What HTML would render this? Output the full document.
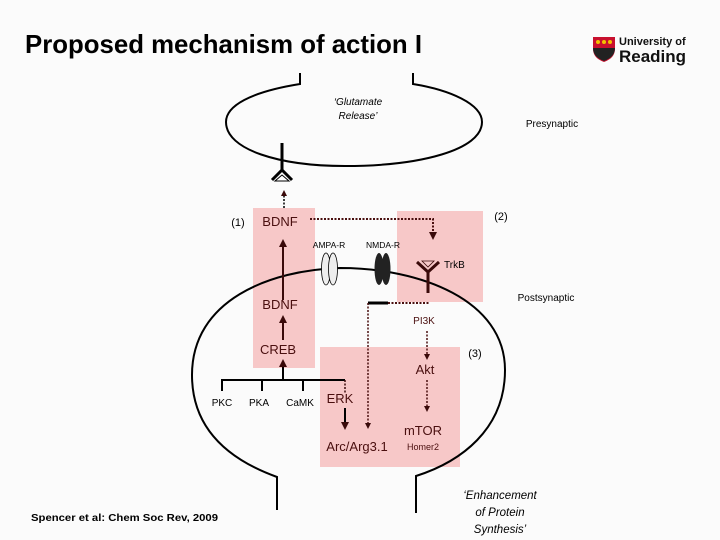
<!DOCTYPE html>
<html><head><style>
html,body{margin:0;padding:0;background:#fbfbfb;}
svg{display:block;font-family:"Liberation Sans",sans-serif;}
</style></head><body>
<svg width="720" height="540" viewBox="0 0 720 540" xmlns="http://www.w3.org/2000/svg">
<defs>
<marker id="ah" viewBox="0 0 10 10" refX="5" refY="5" markerWidth="4" markerHeight="4" orient="auto"><path d="M0,0 L10,5 L0,10 z" fill="#3a0a0a"/></marker>
</defs>
<rect width="720" height="540" fill="#fbfbfb"/>
<text x="25" y="53" font-size="26" font-weight="bold" textLength="397" lengthAdjust="spacingAndGlyphs" fill="#000">Proposed mechanism of action I</text>
<path d="M593 37 h22 v12 q0 9 -11 13 q-11 -4 -11 -13 z" fill="#c8102e"/>
<path d="M593 48 h22 q0 9 -11 13 q-11 -4 -11 -13 z" fill="#222"/>
<circle cx="598" cy="42" r="2" fill="#f2c200"/><circle cx="604" cy="42" r="2" fill="#f2c200"/><circle cx="610" cy="42" r="2" fill="#f2c200"/>
<text x="619" y="45" font-size="11" font-weight="bold" fill="#111">University of</text>
<text x="619" y="62" font-size="17" font-weight="bold" fill="#111" textLength="67" lengthAdjust="spacingAndGlyphs">Reading</text>
<rect x="253" y="208" width="62" height="160" fill="#f7c8c8"/>
<rect x="397" y="211" width="86" height="91" fill="#f7c8c8"/>
<rect x="320" y="347" width="140" height="120" fill="#f7c8c8"/>
<path d="M300 73 V84 C250 92 226 106 226 122 C226 150 280 166 345 166 C420 166 482 150 482 122 C482 104 450 90 413 84 V73" fill="none" stroke="#000" stroke-width="2"/>
<text x="358" y="105" font-size="10" font-style="italic" text-anchor="middle">‘Glutamate</text>
<text x="358" y="119" font-size="10" font-style="italic" text-anchor="middle">Release’</text>
<text x="552" y="127" font-size="10" text-anchor="middle">Presynaptic</text>
<line x1="282" y1="143" x2="282" y2="172" stroke="#000" stroke-width="3"/>
<path d="M272 180 L282 170 L292 180" fill="none" stroke="#000" stroke-width="3"/>
<path d="M275 181 L282 175 L289 181 z" fill="#fff" stroke="#000" stroke-width="1"/>
<line x1="284" y1="208" x2="284" y2="193" stroke="#000" stroke-width="1.5" stroke-dasharray="2,1.5" marker-end="url(#ah)"/>
<path d="M277 510 V477 C230 460 192 430 192 375 C192 300 270 270 340 268 C420 268 505 300 505 370 C505 430 460 462 416 476 V513" fill="none" stroke="#000" stroke-width="2"/>
<text x="546" y="301" font-size="10" text-anchor="middle">Postsynaptic</text>
<ellipse cx="326" cy="269" rx="4.5" ry="16" fill="#eee" stroke="#000" stroke-width="0.8"/>
<ellipse cx="333" cy="269" rx="4.5" ry="16" fill="#eee" stroke="#000" stroke-width="0.8"/>
<ellipse cx="379" cy="269" rx="4.5" ry="16" fill="#222"/>
<ellipse cx="386" cy="269" rx="4.5" ry="16" fill="#222"/>
<text x="329" y="248" font-size="8.5" text-anchor="middle">AMPA-R</text>
<text x="383" y="248" font-size="8.5" text-anchor="middle">NMDA-R</text>
<line x1="428" y1="272" x2="428" y2="293" stroke="#3a0a0a" stroke-width="3"/>
<path d="M417 262 L428 272 L439 262" fill="none" stroke="#3a0a0a" stroke-width="3"/>
<path d="M422 261 L428 267 L434 261 z" fill="#f7c8c8" stroke="#3a0a0a" stroke-width="0.8"/>
<text x="444" y="268" font-size="10">TrkB</text>
<text x="238" y="226" font-size="11" text-anchor="middle">(1)</text>
<text x="501" y="220" font-size="11" text-anchor="middle">(2)</text>
<text x="475" y="357" font-size="11" text-anchor="middle">(3)</text>
<text x="280" y="226" font-size="13" fill="#4a0f0f" text-anchor="middle">BDNF</text>
<text x="280" y="309" font-size="13" fill="#4a0f0f" text-anchor="middle">BDNF</text>
<text x="278" y="354" font-size="13" fill="#4a0f0f" text-anchor="middle">CREB</text>
<line x1="283" y1="300" x2="283" y2="243" stroke="#3a0a0a" stroke-width="2" marker-end="url(#ah)"/>
<line x1="283" y1="340" x2="283" y2="319" stroke="#3a0a0a" stroke-width="2" marker-end="url(#ah)"/>
<line x1="283" y1="380" x2="283" y2="363" stroke="#000" stroke-width="2" marker-end="url(#ah)"/>
<path d="M222 391 V380 H345" fill="none" stroke="#000" stroke-width="2"/>
<line x1="262" y1="380" x2="262" y2="391" stroke="#000" stroke-width="2"/>
<line x1="303" y1="380" x2="303" y2="391" stroke="#000" stroke-width="2"/>
<line x1="345" y1="380" x2="345" y2="393" stroke="#3a0a0a" stroke-width="1.5" stroke-dasharray="2,1.5"/>
<text x="222" y="406" font-size="10" text-anchor="middle">PKC</text>
<text x="259" y="406" font-size="10" text-anchor="middle">PKA</text>
<text x="300" y="406" font-size="10" text-anchor="middle">CaMK</text>
<text x="340" y="403" font-size="13" fill="#4a0f0f" text-anchor="middle">ERK</text>
<line x1="345" y1="408" x2="345" y2="426" stroke="#000" stroke-width="2" marker-end="url(#ah)"/>
<text x="357" y="451" font-size="13" fill="#4a0f0f" text-anchor="middle">Arc/Arg3.1</text>
<text x="424" y="324" font-size="10" fill="#4a0f0f" text-anchor="middle">PI3K</text>
<text x="425" y="374" font-size="13" fill="#4a0f0f" text-anchor="middle">Akt</text>
<text x="423" y="435" font-size="13" fill="#4a0f0f" text-anchor="middle">mTOR</text>
<text x="423" y="450" font-size="9" fill="#4a0f0f" text-anchor="middle">Homer2</text>
<path d="M310 219 H433 V236" fill="none" stroke="#4a0f0f" stroke-width="2" stroke-dasharray="2,1.5" marker-end="url(#ah)"/>
<line x1="368" y1="303" x2="388" y2="303" stroke="#000" stroke-width="3"/>
<line x1="388" y1="303" x2="429" y2="303" stroke="#4a0f0f" stroke-width="2" stroke-dasharray="2,1.5"/>
<line x1="368" y1="303" x2="368" y2="426" stroke="#4a0f0f" stroke-width="1.5" stroke-dasharray="2,1.5" marker-end="url(#ah)"/>
<line x1="427" y1="331" x2="427" y2="357" stroke="#4a0f0f" stroke-width="1.5" stroke-dasharray="2,1.5" marker-end="url(#ah)"/>
<line x1="427" y1="380" x2="427" y2="409" stroke="#4a0f0f" stroke-width="1.5" stroke-dasharray="2,1.5" marker-end="url(#ah)"/>
<text x="500" y="499" font-size="11.5" font-style="italic" text-anchor="middle">‘Enhancement</text>
<text x="500" y="516" font-size="11.5" font-style="italic" text-anchor="middle">of Protein</text>
<text x="500" y="533" font-size="11.5" font-style="italic" text-anchor="middle">Synthesis’</text>
<text x="31" y="521" font-size="10.5" font-weight="bold" textLength="187" lengthAdjust="spacingAndGlyphs">Spencer et al:  Chem Soc Rev, 2009</text>
</svg>
</body></html>
